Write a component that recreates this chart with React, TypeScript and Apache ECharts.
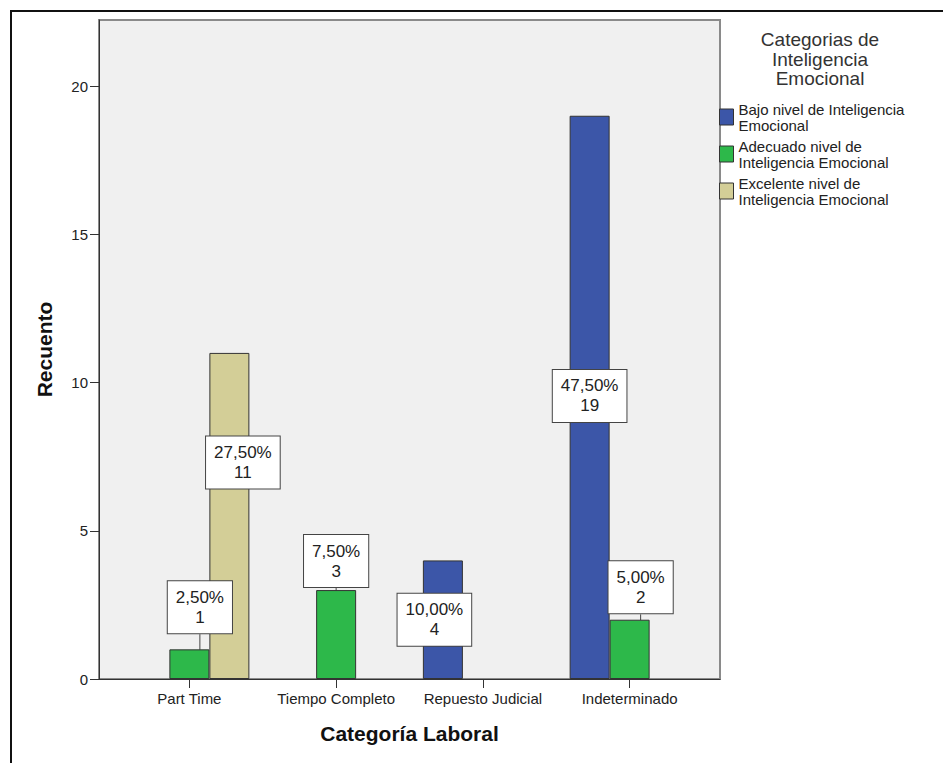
import React, { useEffect, useRef } from "react";
import * as echarts from "echarts";

const categories = ["Part Time", "Tiempo Completo", "Repuesto Judicial", "Indeterminado"];
const seriesNames = [
  "Bajo nivel de Inteligencia\nEmocional",
  "Adecuado nivel de\nInteligencia Emocional",
  "Excelente nivel de\nInteligencia Emocional",
];
const bajo = [0, 0, 4, 19];
const adecuado = [1, 3, 0, 2];
const excelente = [11, 0, 0, 0];
const bajoPct = ["", "", "10,00%", "47,50%"];
const adecuadoPct = ["2,50%", "7,50%", "", "5,00%"];
const excelentePct = ["27,50%", "", "", ""];
const yTicks = [0, 5, 10, 15, 20];

const colors = ["#3c56a8", "#2db84a", "#d3ce97"];
// label displacement (px) from bar centre, per series / category
const labelShift = [
  [[0, 0], [0, 0], [-8.5, 0], [0, -1.5]],
  [[10.5, -57], [0, -73.5], [0, 0], [11, -62]],
  [[13.5, -53.5], [0, 0], [0, 0], [0, 0]],
];
const showGuide = [
  [false, false, false, false],
  [true, true, false, true],
  [false, false, false, false],
];

const FONT = "'Liberation Sans', Arial, sans-serif";

export default function App() {
  const ref = useRef<HTMLDivElement>(null);
  useEffect(() => {
    if (!ref.current) return;
    const chart = echarts.init(ref.current, undefined, { renderer: "svg" });
    const values = [bajo, adecuado, excelente];
    const pcts = [bajoPct, adecuadoPct, excelentePct];
    const series = values.map((vals, s) => ({
      type: "bar",
      name: seriesNames[s],
      xAxisIndex: 1,
      yAxisIndex: 1,
      barWidth: 40,
      barGap: "0%",
      itemStyle: { color: colors[s], borderColor: "#333", borderWidth: 1 },
      label: {
        show: true,
        position: "inside",
        backgroundColor: "#fff",
        borderColor: "#444",
        borderWidth: 1,
        padding: [6, 8, 6, 8],
        fontSize: 17,
        lineHeight: 20,
        color: "#222",
        fontFamily: FONT,
        align: "center",
        formatter: (p: any) => `${pcts[s][p.dataIndex]}\n${vals[p.dataIndex]}`,
      },
      labelLine: { show: true, lineStyle: { color: "#444", width: 1 } },
      labelLayout: (p: any) => ({
        dx: labelShift[s][p.dataIndex][0],
        dy: labelShift[s][p.dataIndex][1],
      }),
      data: vals.map((v, i) =>
        v === 0
          ? "-"
          : { value: v, labelLine: { show: showGuide[s][i], lineStyle: { color: "#444", width: 1 } } }
      ),
    }));

    chart.setOption({
      animation: false,
      textStyle: { fontFamily: FONT },
      color: colors,
      grid: [
        {
          left: 99,
          right: 223,
          top: 20,
          bottom: 84,
          show: true,
          backgroundColor: "#f0f0f0",
          borderColor: "#8a8a8a",
          borderWidth: 2,
        },
        { left: 116, right: 240, top: 20, bottom: 84 },
      ],
      xAxis: [
        {
          type: "value",
          gridIndex: 0,
          min: 0,
          max: 1,
          axisLine: { show: true, onZero: false, lineStyle: { color: "#333", width: 1 } },
          axisTick: { show: false },
          axisLabel: { show: false },
          splitLine: { show: false },
        },
        {
          type: "category",
          gridIndex: 1,
          data: categories,
          axisLine: { show: false },
          axisTick: { show: true, alignWithLabel: true, interval: 0, length: 9, lineStyle: { color: "#333" } },
          axisLabel: { fontSize: 15, color: "#222", margin: 12, interval: 0, hideOverlap: false },
          name: "Categoría Laboral",
          nameLocation: "middle",
          nameGap: 44,
          nameTextStyle: { fontSize: 21, fontWeight: "bold", color: "#111" },
        },
      ],
      yAxis: [
        {
          type: "value",
          gridIndex: 0,
          min: 0,
          max: 22.23,
          axisLine: { show: true, lineStyle: { color: "#333", width: 1 } },
          axisTick: { show: true, length: 9, customValues: yTicks, lineStyle: { color: "#333" } },
          axisLabel: { fontSize: 15, color: "#222", margin: 11, customValues: yTicks },
          splitLine: { show: false },
          name: "Recuento",
          nameLocation: "middle",
          nameGap: 44,
          nameTextStyle: { fontSize: 21, fontWeight: "bold", color: "#111" },
        },
        {
          type: "value",
          gridIndex: 1,
          min: 0,
          max: 22.23,
          show: false,
          splitLine: { show: false },
        },
      ],
      legend: {
        orient: "vertical",
        left: 719,
        top: 101,
        padding: 0,
        itemWidth: 14,
        itemHeight: 16,
        itemGap: 5,
        icon: "rect",
        selectedMode: false,
        itemStyle: { borderColor: "#333", borderWidth: 1 },
        textStyle: { fontSize: 15, lineHeight: 16, color: "#222", fontFamily: FONT },
        data: seriesNames,
      },
      graphic: [
        {
          type: "polyline",
          shape: { points: [[11, 763], [11, 11], [943, 11]] },
          style: { stroke: "#111", lineWidth: 2, fill: null },
          silent: true,
        },
        {
          type: "text",
          x: 820,
          y: 30,
          style: {
            text: "Categorias de\nInteligencia\nEmocional",
            textAlign: "center",
            textVerticalAlign: "top",
            fontSize: 19,
            lineHeight: 19.5,
            fontFamily: FONT,
            fill: "#333",
          },
        },
      ],
      series,
    });
    return () => chart.dispose();
  }, []);
  return (
    <div
      ref={ref}
      style={{ position: "fixed", left: 0, top: 0, width: 943, height: 763, background: "#fff" }}
    />
  );
}
